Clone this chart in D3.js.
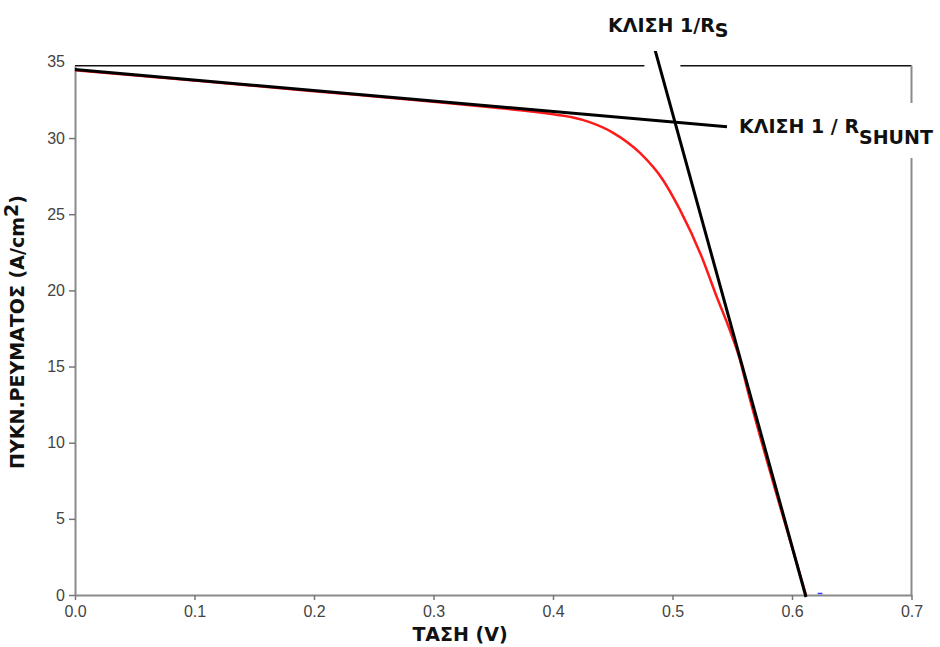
<!DOCTYPE html>
<head>
  <meta charset="utf-8">
  <script src="https://d3js.org/d3.v7.min.js"></script>
  <style>
    body { margin: 0; background: #fff; }
    .axis path { stroke: #8a8a8a; stroke-width: 2; }
    .axis line { stroke: #777; stroke-width: 1.5; }
    .axis text { font: 16px "Liberation Sans", Arial, sans-serif; fill: #444; }
    .title { font: bold 19px "DejaVu Sans", Verdana, sans-serif; fill: #111; }
  </style>
</head>
<body>
<script>

// measured J-V curve (V in volts, J in A/cm2)
var voltage = [0, 0.1, 0.2, 0.3, 0.35, 0.38, 0.40, 0.415, 0.43, 0.45, 0.4728, 0.492, 0.5063, 0.5244, 0.537, 0.5481, 0.5565, 0.5621, 0.586, 0.6117];
var current = [34.45, 33.78, 33.08, 32.38, 32.0, 31.76, 31.56, 31.38, 31.06, 30.36, 29.02, 27.25, 25.28, 22.21, 19.58, 17.36, 15.43, 13.68, 6.9, 0];

// tangent lines: slope 1/Rshunt near Isc, slope 1/Rs near Voc
var shuntV = [0, 0.5456], shuntJ = [34.5, 30.74];
var seriesV = [0.4845, 0.6117], seriesJ = [36.04, -0.13];

var xTicks = [0, 0.1, 0.2, 0.3, 0.4, 0.5, 0.6, 0.7];
var yTicks = [0, 5, 10, 15, 20, 25, 30];
var yTopLabel = 35;

var width = 940, height = 647;

var x = d3.scaleLinear().domain([0, 0.7]).range([75, 911.5]);
var y = d3.scaleLinear().domain([0, 34.75]).range([595, 65.7]);

var svg = d3.select("body").append("svg")
    .attr("width", width)
    .attr("height", height);

// frame: top and right
svg.append("line")
    .attr("x1", x(0)).attr("x2", x(0.7))
    .attr("y1", y(34.75)).attr("y2", y(34.75))
    .attr("stroke", "#111").attr("stroke-width", 1.5);
svg.append("line")
    .attr("x1", x(0.7)).attr("x2", x(0.7))
    .attr("y1", y(34.75)).attr("y2", y(0))
    .attr("stroke", "#8a8a8a").attr("stroke-width", 2);

// gap in the top border where the Rs line crosses it
var crossV = seriesV[0] + (seriesV[1] - seriesV[0]) * (seriesJ[0] - 34.75) / (seriesJ[0] - seriesJ[1]);
svg.append("rect")
    .attr("x", x(crossV) - 15).attr("y", y(34.75) - 4)
    .attr("width", 36).attr("height", 8)
    .attr("fill", "#fff");

svg.append("g")
    .attr("class", "axis")
    .attr("transform", "translate(0," + y(0) + ")")
    .call(d3.axisBottom(x).tickValues(xTicks).tickFormat(d3.format(".1f"))
      .tickSize(5).tickSizeOuter(0).tickPadding(6));

svg.append("g")
    .attr("class", "axis")
    .attr("transform", "translate(" + x(0) + ",0)")
    .call(d3.axisLeft(y).tickValues(yTicks).tickSize(6).tickSizeOuter(0).tickPadding(4));

// the "35" label sits above the frame, without a tick
svg.append("text")
    .attr("x", x(0) - 10)
    .attr("y", y(yTopLabel))
    .attr("dy", "0.32em")
    .attr("text-anchor", "end")
    .style("font", "16px 'Liberation Sans', Arial, sans-serif")
    .style("fill", "#444")
    .text(yTopLabel);

var pts = voltage.map(function(v, i) { return [v, current[i]]; });

var line = d3.line()
    .x(function(d) { return x(d[0]); })
    .y(function(d) { return y(d[1]); });

svg.append("path")
    .datum(pts)
    .attr("fill", "none")
    .attr("stroke", "#ff1a1a")
    .attr("stroke-width", 2.5)
    .attr("d", line.curve(d3.curveMonotoneX));

// small blue point past Voc
svg.append("line")
    .attr("x1", x(0.6215)).attr("x2", x(0.6255))
    .attr("y1", y(0.1)).attr("y2", y(0.1))
    .attr("stroke", "#3344ff").attr("stroke-width", 1.5);

var straight = d3.line()
    .x(function(d) { return x(d[0]); })
    .y(function(d) { return y(d[1]); });

svg.append("path")
    .datum(shuntV.map(function(v, i) { return [v, shuntJ[i]]; }))
    .attr("fill", "none").attr("stroke", "#000").attr("stroke-width", 3)
    .attr("d", straight);

svg.append("path")
    .datum(seriesV.map(function(v, i) { return [v, seriesJ[i]]; }))
    .attr("fill", "none").attr("stroke", "#000").attr("stroke-width", 3)
    .attr("d", straight);

// labels with white backgrounds
function label(px, py, main, sub, subDy) {
  var g = svg.append("g");
  var bg = g.append("rect").attr("fill", "#fff");
  var t = g.append("text").attr("class", "title").attr("x", px).attr("y", py);
  t.append("tspan").text(main);
  t.append("tspan").attr("dy", subDy).text(sub);
  var b = t.node().getBBox();
  bg.attr("x", b.x - 4).attr("y", b.y - 12).attr("width", b.width + 8).attr("height", b.height + 22);
}

label(608, 32, "ΚΛΙΣΗ 1/R", "S", 5);
label(739, 133, "ΚΛΙΣΗ 1 / R", "SHUNT", 11);

svg.append("text")
    .attr("class", "title")
    .attr("x", 460)
    .attr("y", 641)
    .attr("text-anchor", "middle")
    .text("ΤΑΣΗ (V)");

var yt = svg.append("text")
    .attr("class", "title")
    .attr("text-anchor", "middle")
    .attr("transform", "translate(24,332) rotate(-90)");
yt.append("tspan").text("ΠΥΚΝ.ΡΕΥΜΑΤΟΣ (A/cm");
yt.append("tspan").attr("dy", -6).text("2");
yt.append("tspan").attr("dy", 6).text(")");

</script>
</body>
